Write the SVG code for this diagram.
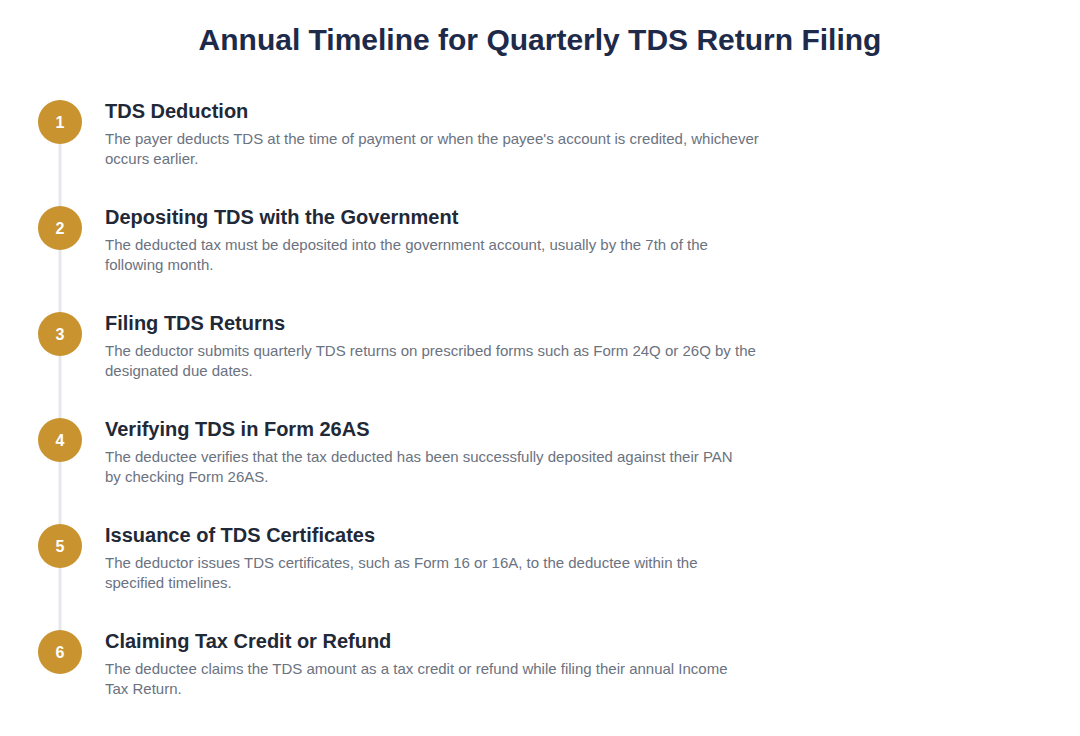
<svg xmlns="http://www.w3.org/2000/svg" width="1080" height="736" viewBox="0 0 1080 736">
<style>
.title{font-family:"Liberation Sans",Arial,sans-serif;font-size:30px;font-weight:bold;fill:#1e2a4a}
.h{font-family:"Liberation Sans",Arial,sans-serif;font-size:20px;font-weight:bold;fill:#1f2937}
.d{font-family:"Liberation Sans",Arial,sans-serif;font-size:15px;fill:#6b7280}
.c{fill:#c9932f}
.n{font-family:"Liberation Sans",Arial,sans-serif;font-size:16px;font-weight:bold;fill:#ffffff}
</style>
<rect width="1080" height="736" fill="#ffffff"/>
<text class="title" x="540" y="50" text-anchor="middle">Annual Timeline for Quarterly TDS Return Filing</text>
<g id="connectors">
<line x1="60" y1="122" x2="60" y2="652" stroke="#e5e7eb" stroke-width="3"/>
</g>
<g id="step1">
<circle class="c" cx="60" cy="122" r="22"/>
<text class="n" x="60" y="128" text-anchor="middle">1</text>
<text class="h" x="105" y="118">TDS Deduction</text>
<text class="d" x="105" y="144">The payer deducts TDS at the time of payment or when the payee's account is credited, whichever</text>
<text class="d" x="105" y="164">occurs earlier.</text>
</g>
<g id="step2">
<circle class="c" cx="60" cy="228" r="22"/>
<text class="n" x="60" y="234" text-anchor="middle">2</text>
<text class="h" x="105" y="224">Depositing TDS with the Government</text>
<text class="d" x="105" y="250">The deducted tax must be deposited into the government account, usually by the 7th of the</text>
<text class="d" x="105" y="270">following month.</text>
</g>
<g id="step3">
<circle class="c" cx="60" cy="334" r="22"/>
<text class="n" x="60" y="340" text-anchor="middle">3</text>
<text class="h" x="105" y="330">Filing TDS Returns</text>
<text class="d" x="105" y="356">The deductor submits quarterly TDS returns on prescribed forms such as Form 24Q or 26Q by the</text>
<text class="d" x="105" y="376">designated due dates.</text>
</g>
<g id="step4">
<circle class="c" cx="60" cy="440" r="22"/>
<text class="n" x="60" y="446" text-anchor="middle">4</text>
<text class="h" x="105" y="436">Verifying TDS in Form 26AS</text>
<text class="d" x="105" y="462">The deductee verifies that the tax deducted has been successfully deposited against their PAN</text>
<text class="d" x="105" y="482">by checking Form 26AS.</text>
</g>
<g id="step5">
<circle class="c" cx="60" cy="546" r="22"/>
<text class="n" x="60" y="552" text-anchor="middle">5</text>
<text class="h" x="105" y="542">Issuance of TDS Certificates</text>
<text class="d" x="105" y="568">The deductor issues TDS certificates, such as Form 16 or 16A, to the deductee within the</text>
<text class="d" x="105" y="588">specified timelines.</text>
</g>
<g id="step6">
<circle class="c" cx="60" cy="652" r="22"/>
<text class="n" x="60" y="658" text-anchor="middle">6</text>
<text class="h" x="105" y="648">Claiming Tax Credit or Refund</text>
<text class="d" x="105" y="674">The deductee claims the TDS amount as a tax credit or refund while filing their annual Income</text>
<text class="d" x="105" y="694">Tax Return.</text>
</g>
</svg>
